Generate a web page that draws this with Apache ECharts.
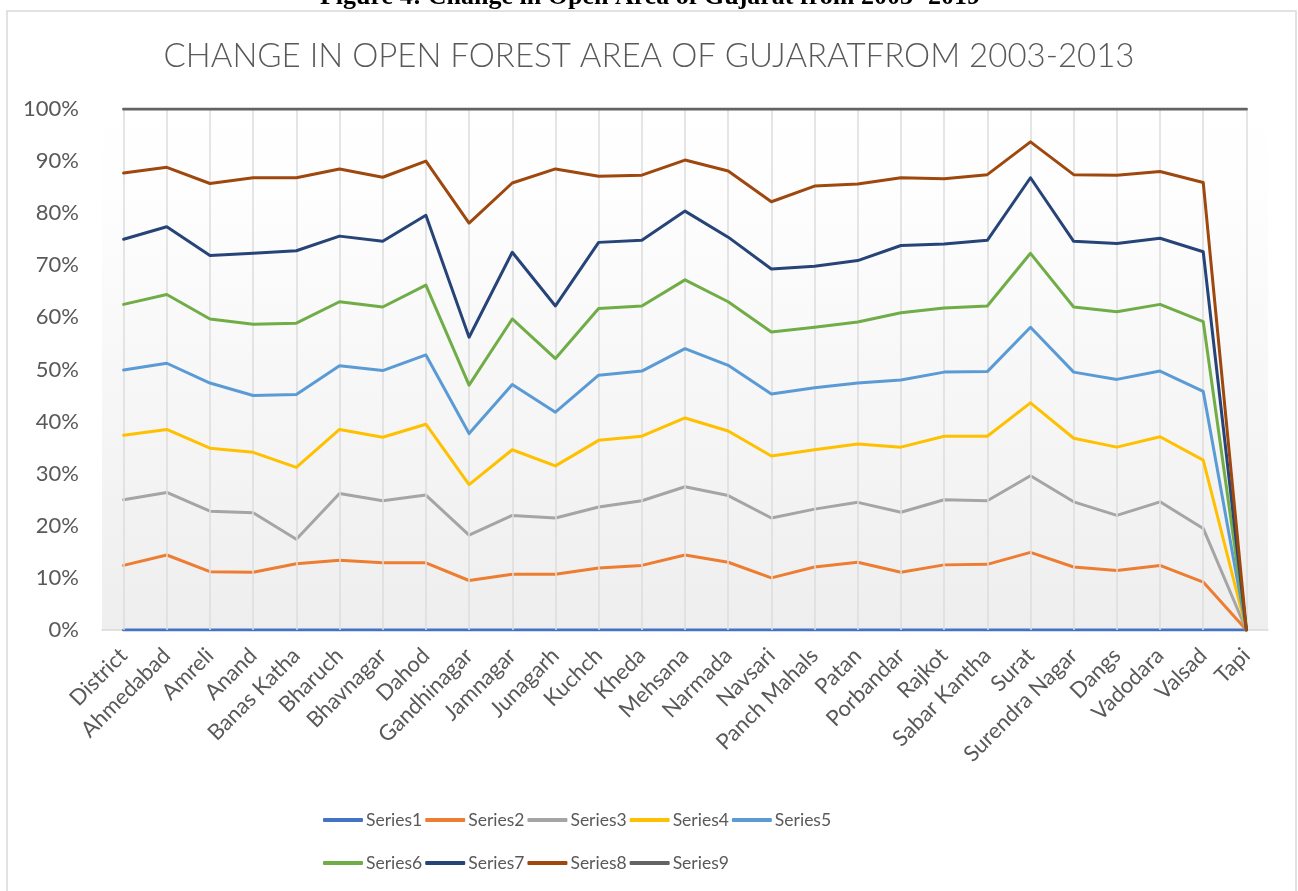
<!DOCTYPE html>
<html>
<head>
<meta charset="utf-8">
<script src="https://cdn.jsdelivr.net/npm/echarts@6.0.0/dist/echarts.min.js"></script>
<style>
html,body{margin:0;padding:0;background:#fff;}
#chart{width:1298px;height:891px;}
</style>
</head>
<body>
<div id="chart"></div>
<script>
// ---- data (cumulative percentage shares) ----
var categories = ["District","Ahmedabad","Amreli","Anand","Banas Katha","Bharuch","Bhavnagar","Dahod","Gandhinagar","Jamnagar","Junagarh","Kuchch","Kheda","Mehsana","Narmada","Navsari","Panch Mahals","Patan","Porbandar","Rajkot","Sabar Kantha","Surat","Surendra Nagar","Dangs","Vadodara","Valsad","Tapi"];
var seriesNames = ["Series1","Series2","Series3","Series4","Series5","Series6","Series7","Series8","Series9"];
var series1 = [0,0,0,0,0,0,0,0,0,0,0,0,0,0,0,0,0,0,0,0,0,0,0,0,0,0,0];
var series2 = [12.4,14.4,11.2,11.1,12.7,13.4,12.9,12.9,9.5,10.7,10.7,11.9,12.4,14.4,13.0,10.0,12.1,13.0,11.1,12.5,12.6,14.9,12.1,11.4,12.4,9.2,0];
var series3 = [25.0,26.4,22.8,22.5,17.4,26.2,24.8,25.9,18.2,22.0,21.5,23.6,24.8,27.5,25.8,21.5,23.2,24.5,22.6,25.0,24.8,29.6,24.6,22.0,24.6,19.5,0];
var series4 = [37.4,38.5,34.9,34.1,31.2,38.5,37.0,39.5,27.9,34.6,31.5,36.4,37.2,40.7,38.2,33.4,34.6,35.7,35.1,37.2,37.2,43.6,36.8,35.1,37.1,32.6,0];
var series5 = [49.9,51.2,47.4,45.0,45.2,50.7,49.8,52.8,37.7,47.1,41.8,48.9,49.7,54.0,50.8,45.3,46.5,47.4,48.0,49.5,49.6,58.1,49.5,48.1,49.7,45.8,0];
var series6 = [62.5,64.4,59.7,58.7,58.9,63.0,62.0,66.2,47.0,59.7,52.1,61.7,62.2,67.2,63.0,57.2,58.1,59.1,60.9,61.8,62.2,72.3,62.0,61.1,62.5,59.2,0];
var series7 = [75.0,77.4,71.9,72.3,72.8,75.6,74.6,79.6,56.2,72.5,62.2,74.4,74.8,80.4,75.4,69.3,69.8,70.9,73.8,74.1,74.8,86.8,74.6,74.2,75.2,72.6,0];
var series8 = [87.7,88.8,85.7,86.8,86.8,88.5,86.9,90.0,78.1,85.8,88.5,87.1,87.3,90.2,88.1,82.2,85.2,85.6,86.8,86.6,87.4,93.7,87.4,87.3,88.0,85.9,0];
var series9 = [100,100,100,100,100,100,100,100,100,100,100,100,100,100,100,100,100,100,100,100,100,100,100,100,100,100,100];
var yTicks = {min:0, max:100, interval:10};

var seriesData = [series1,series2,series3,series4,series5,series6,series7,series8,series9];
var colors = ["#4472C4","#ED7D31","#A5A5A5","#FFC000","#5B9BD5","#70AD47","#264478","#9E480E","#636363"];

var FONT = "Lato, Carlito, 'Open Sans', sans-serif";
var chart = echarts.init(document.getElementById('chart'), null, {renderer:'canvas'});

var series = [{
  name: '_grid',
  type: 'line',
  data: categories.map(function(){return null;}),
  z: 1,
  silent: true,
  symbol: 'none',
  markLine: {
    silent: true,
    symbol: ['none','none'],
    label: {show:false},
    lineStyle: {color:'#dcdcdc', width:1.5, type:'solid'},
    emphasis: {disabled:true},
    animation: false,
    data: categories.map(function(c){return {xAxis:c};})
  }
}];
seriesData.forEach(function(d,i){
  series.push({
    name: seriesNames[i],
    type: 'line',
    data: d,
    z: 2+i,
    symbol: 'none',
    showSymbol: false,
    smooth: false,
    color: colors[i],
    lineStyle: {width:3, color:colors[i], cap:'round', join:'round'},
    emphasis: {disabled:true}
  });
});

var legendCommon = {
  icon: 'roundRect',
  itemWidth: 40,
  itemHeight: 4,
  itemGap: 3,
  selectedMode: false,
  textStyle: {color:'#595959', fontSize:17.5, fontFamily:FONT, padding:[0,0,0,-2]}
};

chart.setOption({
  animation: false,
  backgroundColor: '#ffffff',
  title: {
    text: 'CHANGE IN OPEN FOREST AREA OF GUJARATFROM 2003-2013',
    left: 'center',
    top: 35,
    textStyle: {color:'#595959', fontSize:33, fontWeight:300, fontFamily:FONT}
  },
  graphic: [
    {type:'rect', shape:{x:7, y:11, width:1289, height:900}, style:{fill:'none', stroke:'#d9d9d9', lineWidth:1.5}, silent:true, z:-1},
    {type:'text', x:650, y:10, style:{text:'Figure 4: Change in Open Area of Gujarat from 2003- 2019', fontFamily:"'Liberation Serif','Times New Roman',serif", fontWeight:'bold', fontSize:26, fill:'#000', align:'center', verticalAlign:'bottom'}, silent:true}
  ],
  legend: [
    Object.assign({data: seriesNames.slice(0,5), left: 318, top: 806}, legendCommon),
    Object.assign({data: seriesNames.slice(5), left: 318, top: 849}, legendCommon)
  ],
  grid: {
    left: 102, right: 30, top: 109, bottom: 261,
    show: true, borderWidth: 0,
    backgroundColor: new echarts.graphic.LinearGradient(0,0,0,1,[
      {offset:0, color:'#ffffff'},
      {offset:0.2, color:'#fdfdfd'},
      {offset:1, color:'#eeeeee'}
    ])
  },
  xAxis: {
    type: 'category',
    data: categories,
    boundaryGap: true,
    axisLine: {show:true, lineStyle:{color:'#d9d9d9', width:1.5}},
    axisTick: {show:false},
    splitLine: {show:false},
    axisLabel: {interval:0, rotate:45, margin:22, color:'#595959', fontSize:22, fontFamily:FONT}
  },
  yAxis: {
    type: 'value',
    min: yTicks.min, max: yTicks.max, interval: yTicks.interval,
    axisLine: {show:false},
    axisTick: {show:false},
    splitLine: {show:false},
    axisLabel: {formatter:'{value}%', margin:23, color:'#595959', fontSize:22, fontFamily:FONT}
  },
  series: series
});
</script>
</body>
</html>
